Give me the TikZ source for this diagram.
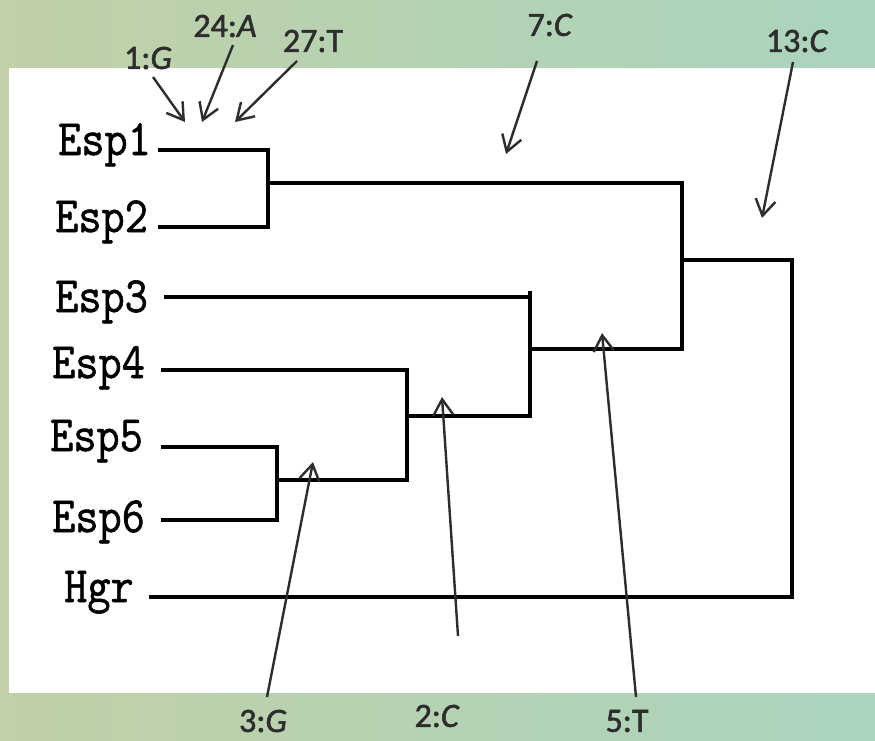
\documentclass[tikz,border=0pt]{standalone}
\usepackage{fontspec}
\usepackage{graphicx}
\usetikzlibrary{arrows.meta}
\newfontfamily\espfont{Latin Modern Mono}[FakeBold=1.2]
\newfontfamily\lblfont{Carlito}[FakeBold=1.6]
\definecolor{bgL}{RGB}{192,208,168}
\definecolor{bgM}{RGB}{184,212,178}
\definecolor{bgR}{RGB}{170,212,190}
\definecolor{arrc}{RGB}{45,45,45}
\newcommand\esptext[1]{\scalebox{1}[1.13]{#1}}
\begin{document}
\begin{tikzpicture}[x=1pt,y=-1pt,
  tree/.style={draw=black, line width=4.2pt, line join=miter, line cap=butt},
  arr/.style={draw=arrc, line width=2.4pt,
    -{Straight Barb[length=16pt,width=20pt,line width=2.4pt]}},
  esp/.style={font=\espfont\fontsize{45}{50}\selectfont, inner sep=0pt, anchor=base west},
  lbl/.style={font=\lblfont\fontsize{34}{36}\selectfont, text=arrc, inner sep=0pt}]
\useasboundingbox (0,0) rectangle (875,741);
\shade[left color=bgL, middle color=bgM, right color=bgR, shading angle=90] (0,0) rectangle (875,741);
\fill[white] (9,68) rectangle (875,693);
% species labels
\node[esp] (e1) at (58,155) {\esptext{Esp1}};
\node[esp] (e2) at (55,232) {\esptext{Esp2}};
\node[esp] (e3) at (55,312) {\esptext{Esp3}};
\node[esp] (e4) at (52,378) {\esptext{Esp4}};
\node[esp] (e5) at (50,451) {\esptext{Esp5}};
\node[esp] (e6) at (52,532) {\esptext{Esp6}};
\node[esp] (hg) at (64,602) {\esptext{Hgr}};
% tree coordinates
\coordinate (s1) at (158,150);
\coordinate (s2) at (158,227);
\coordinate (s3) at (164,297);
\coordinate (s4) at (161,370);
\coordinate (s5) at (161,447);
\coordinate (s6) at (161,520);
\coordinate (sh) at (149,597);
\coordinate (n12) at (268,183);
\coordinate (n56) at (277,480);
\coordinate (n456) at (407,416);
\coordinate (n3456) at (530,349);
\coordinate (tk3) at (530,291);
\coordinate (n16) at (682,260);
\coordinate (root) at (792,597);
% tree
\draw[tree] (s1) -| (n12) |- (s2);
\draw[tree] (n12) -| (n16) |- (n3456);
\draw[tree] (s5) -| (n56) |- (s6);
\draw[tree] (n56) -| (n456) |- (s4);
\draw[tree] (n456) -| (tk3);
\draw[tree] (s3) -- (s3 -| tk3);
\draw[tree] (n16) -| (root) -- (sh);
% arrow labels
\node[lbl] (l1) at (148,58) {1:\textit{G}};
\node[lbl] (l24) at (225,26) {24:\textit{A}};
\node[lbl] (l27) at (313,41) {27:T};
\node[lbl] (l7) at (550,25) {7:\textit{C}};
\node[lbl] (l13) at (797,41) {13:\textit{C}};
\node[lbl] (l3) at (263,721) {3:\textit{G}};
\node[lbl] (l2) at (437,716) {2:\textit{C}};
\node[lbl] (l5) at (627,721) {5:T};
% arrow ends
\coordinate (a1) at (153,77);  \coordinate (h1) at (185,122);
\coordinate (a24) at (233,45); \coordinate (h24) at (202,122);
\coordinate (a27) at (297,61); \coordinate (h27) at (235,122);
\coordinate (a7) at (537,61);  \coordinate (h7) at (506,154);
\coordinate (a13) at (793,62); \coordinate (h13) at (762,218);
\coordinate (a3) at (267,697); \coordinate (h3) at (313,462);
\coordinate (a2) at (458,636); \coordinate (h2) at (442,397);
\coordinate (a5) at (636,697); \coordinate (h5) at (602,333);
\draw[arr] (a1) -- (h1);
\draw[arr] (a24) -- (h24);
\draw[arr] (a27) -- (h27);
\draw[arr] (a7) -- (h7);
\draw[arr] (a13) -- (h13);
\draw[arr] (a3) -- (h3);
\draw[arr] (a2) -- (h2);
\draw[arr] (a5) -- (h5);
\end{tikzpicture}
\end{document}
